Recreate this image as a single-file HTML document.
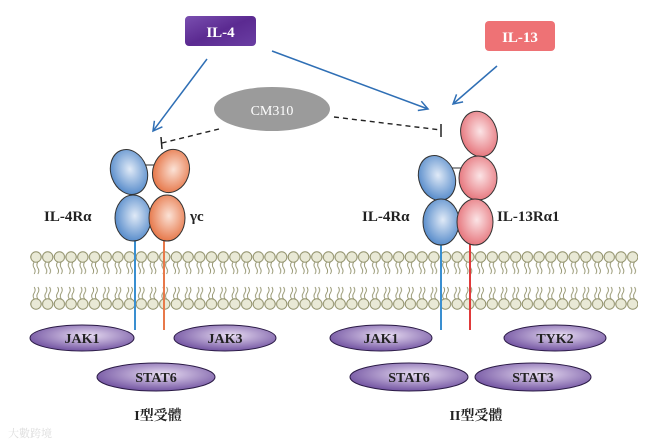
<!DOCTYPE html>
<html><head><meta charset="utf-8"><style>
html,body{margin:0;padding:0;background:#fff;}
svg{display:block;}
text{font-family:"Liberation Serif","Noto Serif CJK SC",serif;font-weight:bold;}
</style></head><body>
<svg width="647" height="444" viewBox="0 0 647 444" xmlns="http://www.w3.org/2000/svg">
<defs>
<pattern id="top" x="30.15" y="251" width="11.7" height="30" patternUnits="userSpaceOnUse">
<circle cx="5.85" cy="6" r="5.2" fill="#e9e9d6" stroke="#8f8f68" stroke-width="1"/>
<path d="M4 11 q-2 3 0 6 q2 3 0 6" fill="none" stroke="#8f8f68" stroke-width="0.9"/>
<path d="M7.7 11 q-2 3 0 6 q2 3 0 6" fill="none" stroke="#8f8f68" stroke-width="0.9"/>
</pattern>
<pattern id="bot" x="30.15" y="280" width="11.7" height="30" patternUnits="userSpaceOnUse">
<circle cx="5.85" cy="24" r="5.2" fill="#e9e9d6" stroke="#8f8f68" stroke-width="1"/>
<path d="M4 19 q-2 -3 0 -6 q2 -3 0 -6" fill="none" stroke="#8f8f68" stroke-width="0.9"/>
<path d="M7.7 19 q-2 -3 0 -6 q2 -3 0 -6" fill="none" stroke="#8f8f68" stroke-width="0.9"/>
</pattern>
<radialGradient id="gb" cx="0.55" cy="0.45" r="0.6"><stop offset="0" stop-color="#e0eaf7"/><stop offset="1" stop-color="#4f86c8"/></radialGradient>
<radialGradient id="go" cx="0.55" cy="0.45" r="0.6"><stop offset="0" stop-color="#fbe2d6"/><stop offset="1" stop-color="#e57040"/></radialGradient>
<radialGradient id="gp" cx="0.55" cy="0.45" r="0.6"><stop offset="0" stop-color="#fbe4e6"/><stop offset="1" stop-color="#e56f76"/></radialGradient>
<radialGradient id="gv" cx="0.55" cy="0.4" r="0.65"><stop offset="0" stop-color="#e9def3"/><stop offset="1" stop-color="#6a4a9c"/></radialGradient>
<linearGradient id="il4" x1="0" y1="0" x2="1" y2="1"><stop offset="0" stop-color="#7a4fb0"/><stop offset="0.5" stop-color="#5b2a91"/><stop offset="1" stop-color="#6a3ea3"/></linearGradient>
<marker id="ar" markerWidth="12" markerHeight="12" refX="10" refY="6" orient="auto" markerUnits="userSpaceOnUse"><path d="M1 1 L10 6 L1 11" fill="none" stroke="#2f6fb5" stroke-width="1.5"/></marker>
</defs>

<rect x="30" y="251" width="608" height="30" fill="url(#top)"/>
<rect x="30" y="280" width="608" height="30" fill="url(#bot)"/>

<rect x="185" y="16" width="71" height="30" rx="4" fill="url(#il4)"/>
<text x="220.5" y="37" font-size="15" fill="#fff" text-anchor="middle">IL-4</text>
<rect x="485" y="21" width="70" height="30" rx="4" fill="#ee7275"/>
<text x="520" y="42" font-size="15" fill="#fff" text-anchor="middle">IL-13</text>

<ellipse cx="272" cy="109" rx="58" ry="22" fill="#9b9b9b"/>
<text x="272" y="115" font-size="14" fill="#fff" text-anchor="middle" style="font-weight:normal">CM310</text>

<line x1="207" y1="59" x2="153" y2="131" stroke="#2f6fb5" stroke-width="1.5" marker-end="url(#ar)"/>
<line x1="272" y1="51" x2="428" y2="109" stroke="#2f6fb5" stroke-width="1.5" marker-end="url(#ar)"/>
<line x1="497" y1="66" x2="453" y2="104" stroke="#2f6fb5" stroke-width="1.5" marker-end="url(#ar)"/>

<line x1="219" y1="129" x2="162" y2="143" stroke="#222" stroke-width="1.4" stroke-dasharray="5,4"/>
<line x1="161" y1="137" x2="162" y2="149" stroke="#222" stroke-width="1.5"/>
<line x1="334" y1="117" x2="441" y2="130" stroke="#222" stroke-width="1.4" stroke-dasharray="5,4"/>
<line x1="441" y1="124" x2="441" y2="137" stroke="#222" stroke-width="1.5"/>

<line x1="135" y1="235" x2="135" y2="330" stroke="#3a8fd0" stroke-width="2"/>
<line x1="164" y1="235" x2="164" y2="330" stroke="#e8794a" stroke-width="2"/>
<line x1="143" y1="165" x2="160" y2="165" stroke="#555" stroke-width="1.2"/>
<ellipse cx="129" cy="172" rx="18" ry="23" transform="rotate(-20 129 172)" fill="url(#gb)" stroke="#333" stroke-width="1"/>
<ellipse cx="171" cy="171" rx="18" ry="22" transform="rotate(20 171 171)" fill="url(#go)" stroke="#333" stroke-width="1"/>
<ellipse cx="133" cy="218" rx="18" ry="23" fill="url(#gb)" stroke="#333" stroke-width="1"/>
<ellipse cx="167" cy="218" rx="18" ry="23" fill="url(#go)" stroke="#333" stroke-width="1"/>
<text x="44" y="221" font-size="15" fill="#222">IL-4Rα</text>
<text x="190" y="221" font-size="15" fill="#222">γc</text>

<line x1="441" y1="235" x2="441" y2="330" stroke="#3a8fd0" stroke-width="2"/>
<line x1="470" y1="235" x2="470" y2="330" stroke="#e03a3a" stroke-width="2"/>
<line x1="452" y1="168" x2="462" y2="168" stroke="#555" stroke-width="1.2"/>
<ellipse cx="479" cy="134" rx="18" ry="23" transform="rotate(-15 479 134)" fill="url(#gp)" stroke="#333" stroke-width="1"/>
<ellipse cx="437" cy="178" rx="18" ry="23" transform="rotate(-20 437 178)" fill="url(#gb)" stroke="#333" stroke-width="1"/>
<ellipse cx="478" cy="178" rx="19" ry="22" fill="url(#gp)" stroke="#333" stroke-width="1"/>
<ellipse cx="441" cy="222" rx="18" ry="23" fill="url(#gb)" stroke="#333" stroke-width="1"/>
<ellipse cx="475" cy="222" rx="18" ry="23" fill="url(#gp)" stroke="#333" stroke-width="1"/>
<text x="362" y="221" font-size="15" fill="#222">IL-4Rα</text>
<text x="497" y="221" font-size="15" fill="#222">IL-13Rα1</text>

<g stroke="#2a1a45" stroke-width="1" fill="url(#gv)">
<ellipse cx="82" cy="338" rx="52" ry="13"/>
<ellipse cx="225" cy="338" rx="51" ry="13"/>
<ellipse cx="156" cy="377" rx="59" ry="14"/>
<ellipse cx="381" cy="338" rx="51" ry="13"/>
<ellipse cx="555" cy="338" rx="51" ry="13"/>
<ellipse cx="409" cy="377" rx="59" ry="14"/>
<ellipse cx="533" cy="377" rx="58" ry="14"/>
</g>
<g font-size="14" fill="#222" text-anchor="middle">
<text x="82" y="343">JAK1</text>
<text x="225" y="343">JAK3</text>
<text x="156" y="382">STAT6</text>
<text x="381" y="343">JAK1</text>
<text x="555" y="343">TYK2</text>
<text x="409" y="382">STAT6</text>
<text x="533" y="382">STAT3</text>
</g>
<text x="158" y="420" font-size="14" fill="#222" text-anchor="middle">I型受體</text>
<text x="476" y="420" font-size="14" fill="#222" text-anchor="middle">II型受體</text>
<text x="8" y="437" font-size="11" fill="#ddd" style="font-weight:normal">大數跨境</text>
</svg>
</body></html>
